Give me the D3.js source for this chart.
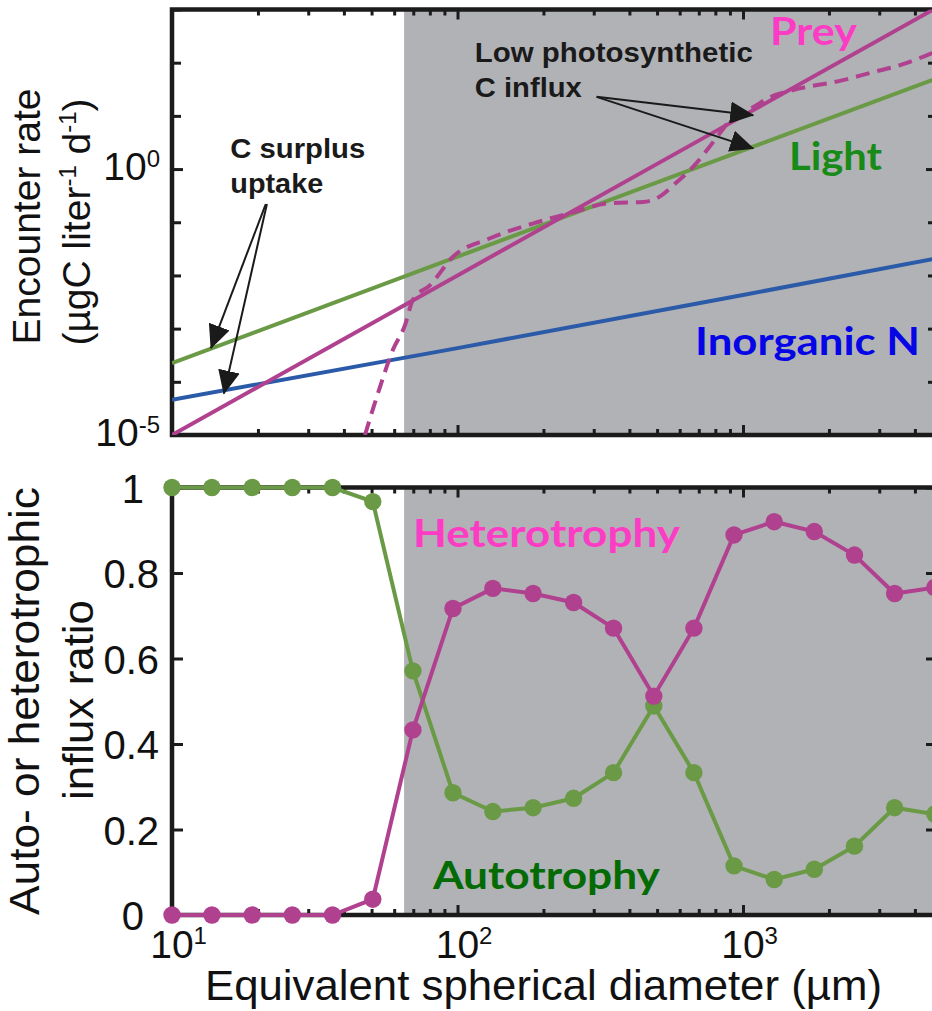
<!DOCTYPE html>
<html><head><meta charset="utf-8">
<script src="https://cdn.jsdelivr.net/npm/d3@7"></script>
<style>body{margin:0;background:#fff}svg{display:block}</style>
</head><body>
<svg id="c" width="932" height="1011"></svg>
<script>
// ---------- data ----------
// top panel: encounter rates (µgC liter^-1 d^-1) vs equivalent spherical diameter (µm)
const lightD = [10, 100, 1000, 4780];
const lightV = [2.25e-4, 0.0225, 2.25, 51];
const nitrogenD = [10, 100, 1000, 4780];
const nitrogenV = [4.6e-5, 4.3e-4, 4.3e-3, 0.021];
const preyD = [10, 100, 1000, 4780];
const preyV = [1e-5, 0.01, 10, 1090];
const preyUptakeD = [47.4, 52.7, 59.4, 65.5, 69.8, 80.2, 96.4, 130, 190, 248, 342, 447, 500, 587, 668, 748, 830, 923, 1084, 1245, 1496, 2239, 2851, 3548, 4592, 4780];
const preyUptakeV = [1.0e-5, 6.2e-5, 4.0e-4, 1.17e-3, 3.5e-3, 6.6e-3, 0.0224, 0.050, 0.10, 0.148, 0.229, 0.24, 0.285, 0.57, 1.10, 2.28, 4.74, 9.5, 14.6, 22.5, 30.5, 46.9, 66.4, 89.7, 150.7, 164];
// bottom panel: influx ratios
const sizeD = [10, 13.8, 19.1, 26.4, 36.5, 50.5, 69.8, 96.4, 133, 184, 255, 352, 487, 673, 930, 1286, 1777, 2457, 3396, 4694];
const autoRatio = [1, 1, 1, 1, 1, 0.967, 0.571, 0.286, 0.242, 0.251, 0.273, 0.333, 0.489, 0.333, 0.115, 0.083, 0.107, 0.161, 0.251, 0.236];
const heteroRatio = [0, 0, 0, 0, 0, 0.037, 0.433, 0.717, 0.764, 0.752, 0.731, 0.671, 0.512, 0.671, 0.889, 0.920, 0.897, 0.842, 0.752, 0.766];
// mixotrophic (shaded) size range starts at
const shadeStartD = 65;
// ticks
const xMajorTicks = [10, 100, 1000];
const xMinorTicks = [20, 30, 40, 50, 60, 70, 80, 90, 200, 300, 400, 500, 600, 700, 800, 900, 2000, 3000, 4000];
const xTickExp = ["1", "2", "3"];
const y1MajorTicks = [1e-5, 1e0];
const y1TickExp = ["-5", "0"];
const y1MinorTicks = [1e-4, 1e-3, 1e-2, 1e-1, 1e1, 1e2, 1e3];
const y2Ticks = [0, 0.2, 0.4, 0.6, 0.8, 1];
const y2TickLabels = ["0", "0.2", "0.4", "0.6", "0.8", "1"];
// annotation arrows (data coordinates)
const surplusFromD = [21.3, 21.5], surplusFromV = [0.22, 0.22];
const surplusToD = [13.7, 15.2], surplusToV = [4.3e-4, 6.0e-5];
const influxFromD = [307, 307], influxFromV = [22.8, 22.8];
const influxToD = [1086, 1086], influxToV = [10.3, 2.45];

// ---------- layout ----------
const W = 932, H = 1011;
const xL = 172, xR = 937;
const top1 = 9.5, bot1 = 435, top2 = 487.5, bot2 = 915;
const AX = "#1b1b1b", GREY = "#b1b2b6";
const GREEN = "#6a9a45", MAG = "#b0418f", BLUE = "#2b5aa8";
const SANS = "'Liberation Sans', Arial, Helvetica, sans-serif";
const CAL = "Lato, 'Open Sans', sans-serif";

const x = d3.scaleLog().domain([10, 4780]).range([xL, xR]);
const y1 = d3.scaleLog().domain([1e-5, 1e3]).range([bot1, top1]);
const y2 = d3.scaleLinear().domain([0, 1]).range([bot2, top2]);

const svg = d3.select("#c");
svg.append("rect").attr("width", W).attr("height", H).attr("fill", "#fff");

const defs = svg.append("defs");
defs.append("clipPath").attr("id", "clip1").append("rect")
  .attr("x", xL).attr("y", top1).attr("width", xR - xL).attr("height", bot1 - top1);
defs.append("marker").attr("id", "ah").attr("markerUnits", "userSpaceOnUse")
  .attr("viewBox", "0 0 24 22").attr("markerWidth", 24).attr("markerHeight", 22)
  .attr("refX", 23).attr("refY", 11).attr("orient", "auto")
  .append("path").attr("d", "M0,0 L24,11 L0,22 Z").attr("fill", "#1a1a1a");

// shaded region
[[top1, bot1], [top2, bot2]].forEach(([t, b]) => {
  svg.append("rect").attr("x", x(shadeStartD)).attr("y", t)
    .attr("width", W + 20 - x(shadeStartD)).attr("height", b - t).attr("fill", GREY);
});

// ticks
function ticks(gen, values, size, transform) {
  const g = svg.append("g").attr("transform", transform)
    .call(gen.tickValues(values).tickSize(-size).tickSizeOuter(0).tickFormat(() => ""));
  g.select(".domain").remove();
  g.selectAll(".tick text").remove();
  g.selectAll(".tick line").attr("stroke", AX).attr("stroke-width", 3);
}
function frame(yScale, t, b, yMaj, yMin) {
  ticks(d3.axisBottom(x), xMajorTicks, 10, `translate(0,${b})`);
  ticks(d3.axisBottom(x), xMinorTicks, 6, `translate(0,${b})`);
  ticks(d3.axisTop(x), xMajorTicks, 10, `translate(0,${t})`);
  ticks(d3.axisTop(x), xMinorTicks, 6, `translate(0,${t})`);
  ticks(d3.axisLeft(yScale), yMaj, 11, `translate(${xL},0)`);
  ticks(d3.axisRight(yScale), yMaj, 11, `translate(${xR},0)`);
  if (yMin) {
    ticks(d3.axisLeft(yScale), yMin, 9, `translate(${xL},0)`);
    ticks(d3.axisRight(yScale), yMin, 9, `translate(${xR},0)`);
  }
  svg.append("rect").attr("x", xL).attr("y", t).attr("width", xR - xL).attr("height", b - t)
    .attr("fill", "none").attr("stroke", AX).attr("stroke-width", 4.5);
}
frame(y1, top1, bot1, y1MajorTicks, y1MinorTicks);
frame(y2, top2, bot2, y2Ticks, null);

// ---------- top panel lines ----------
const lineTop = d3.line().x(d => x(d[0])).y(d => y1(d[1]));
const gTop = svg.append("g").attr("clip-path", "url(#clip1)");
const zip = (a, b) => a.map((v, i) => [v, b[i]]);
gTop.append("path").attr("d", lineTop(zip(nitrogenD, nitrogenV)))
  .attr("fill", "none").attr("stroke", BLUE).attr("stroke-width", 4);
gTop.append("path").attr("d", lineTop(zip(lightD, lightV)))
  .attr("fill", "none").attr("stroke", GREEN).attr("stroke-width", 4);
gTop.append("path").attr("d", lineTop(zip(preyD, preyV)))
  .attr("fill", "none").attr("stroke", MAG).attr("stroke-width", 4);
gTop.append("path").attr("d", lineTop.curve(d3.curveMonotoneX)(zip(preyUptakeD, preyUptakeV)))
  .attr("fill", "none").attr("stroke", MAG).attr("stroke-width", 4).attr("stroke-dasharray", "14,8");

// arrows
function arrows(fD, fV, tD, tV) {
  fD.forEach((d, i) => {
    svg.append("line").attr("x1", x(d)).attr("y1", y1(fV[i]))
      .attr("x2", x(tD[i])).attr("y2", y1(tV[i]))
      .attr("stroke", "#1a1a1a").attr("stroke-width", 2).attr("marker-end", "url(#ah)");
  });
}
arrows(surplusFromD, surplusFromV, surplusToD, surplusToV);
arrows(influxFromD, influxFromV, influxToD, influxToV);

// ---------- bottom panel ----------
const lineBot = d3.line().x(d => x(d[0])).y(d => y2(d[1]));
[[autoRatio, GREEN], [heteroRatio, MAG]].forEach(([vals, col]) => {
  const pts = zip(sizeD, vals);
  svg.append("path").attr("d", lineBot(pts)).attr("fill", "none")
    .attr("stroke", col).attr("stroke-width", 4);
  svg.append("g").selectAll("circle").data(pts).join("circle")
    .attr("cx", d => x(d[0])).attr("cy", d => y2(d[1])).attr("r", 8.7).attr("fill", col);
});

// ---------- text ----------
function txt(s, px, py, size, opts = {}) {
  const t = svg.append("text").attr("x", px).attr("y", py).attr("font-size", size)
    .attr("font-family", opts.family || SANS).attr("fill", opts.fill || "#111")
    .attr("font-weight", opts.weight || "normal").attr("text-anchor", opts.anchor || "start").text(s);
  if (opts.len) t.attr("textLength", opts.len).attr("lengthAdjust", "spacingAndGlyphs");
  if (opts.rot) t.attr("transform", `rotate(-90,${px},${py})`);
  return t;
}
// x tick labels
xMajorTicks.forEach((v, i) => {
  txt("10", x(v), 958, 39, { anchor: "middle" });
  txt(xTickExp[i], x(v) + 21.5, 944, 24);
});
// top y tick labels
y1MajorTicks.forEach((v, i) => {
  const t = svg.append("text").attr("x", 160).attr("y", y1(v) + 10.5).attr("text-anchor", "end")
    .attr("font-family", SANS).attr("font-size", 39).attr("fill", "#111");
  t.append("tspan").text("10");
  t.append("tspan").attr("font-size", 24).attr("dy", -13).text(y1TickExp[i]);
});
// bottom y tick labels
y2Ticks.forEach((v, i) => {
  const lab = y2TickLabels[i];
  txt(lab, lab.length === 1 ? 144 : 159, y2(v) + 15, 40, { anchor: "end" });
});
// axis titles
txt("Equivalent spherical diameter (µm)", 205, 1000, 42, { len: 677 });
txt("Encounter rate", 40, 216.5, 39, { anchor: "middle", rot: true });
{
  const t = svg.append("text").attr("x", 90).attr("y", 222).attr("text-anchor", "middle")
    .attr("font-family", SANS).attr("font-size", 39).attr("fill", "#111")
    .attr("transform", "rotate(-90,90,222)");
  t.append("tspan").text("(µgC liter");
  t.append("tspan").attr("font-size", 24).attr("dy", -14).text("-1");
  t.append("tspan").attr("dy", 14).text(" d");
  t.append("tspan").attr("font-size", 24).attr("dy", -14).text("-1");
  t.append("tspan").attr("dy", 14).text(")");
}
txt("Auto- or heterotrophic", 39, 701, 43, { anchor: "middle", rot: true, len: 428 });
txt("influx ratio", 93, 700, 43, { anchor: "middle", rot: true, len: 200 });

// annotations (positions in data coordinates)
txt("C surplus", x(16.0), y1(1.61), 27, { weight: "bold", len: 135, fill: "#1a1a1a" });
txt("uptake", x(16.0), y1(0.354), 27, { weight: "bold", len: 93, fill: "#1a1a1a" });
txt("Low photosynthetic", x(115), y1(102), 27, { weight: "bold", len: 278, fill: "#1a1a1a" });
txt("C influx", x(115), y1(22.5), 27, { weight: "bold", len: 107, fill: "#1a1a1a" });
txt("Prey", x(1243), y1(213), 39, { weight: "bold", family: CAL, fill: "#fd3cc5", len: 87 });
txt("Light", x(1449), y1(0.958), 39, { weight: "bold", family: CAL, fill: "#178a17", len: 93 });
txt("Inorganic N", x(679), y1(3.2e-4), 39, { weight: "bold", family: CAL, fill: "#0505e6", len: 225 });
txt("Heterotrophy", x(69.8), y2(0.861), 39, { weight: "bold", family: CAL, fill: "#fd3cc5", len: 267 });
txt("Autotrophy", x(82), y2(0.061), 39, { weight: "bold", family: CAL, fill: "#046a04", len: 227 });
</script>
</body></html>
